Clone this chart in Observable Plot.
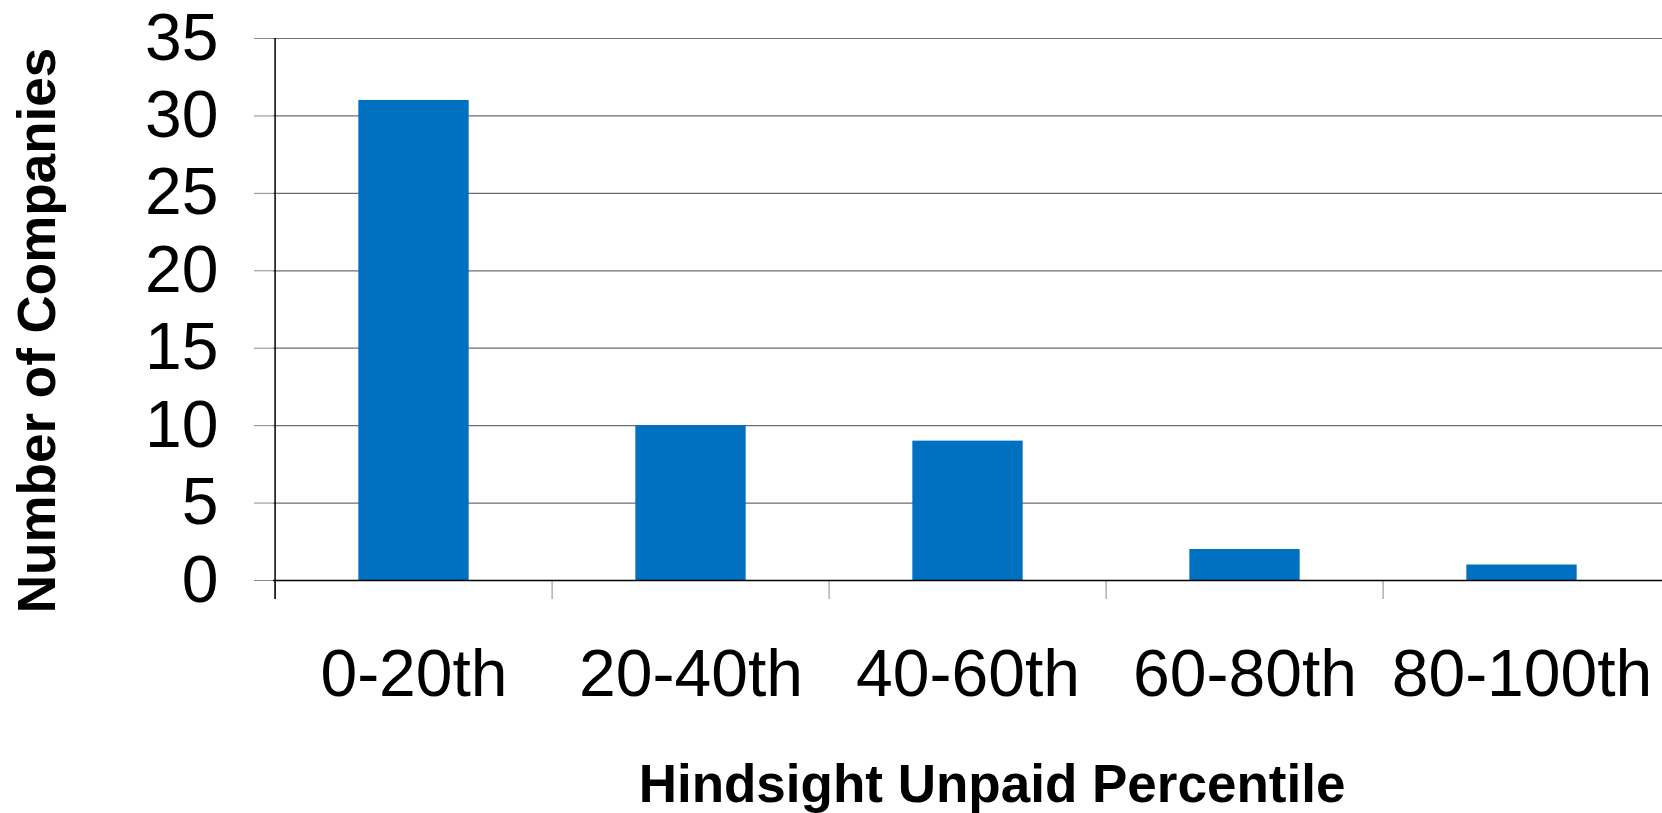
<!DOCTYPE html>
<html>
<head>
<meta charset="utf-8">
<script src="https://cdn.jsdelivr.net/npm/d3@7"></script>
<script src="https://cdn.jsdelivr.net/npm/@observablehq/plot@0.6"></script>
<style>
  html, body { margin: 0; padding: 0; background: #ffffff; }
  #chart svg { display: block; }
</style>
</head>
<body>
<div id="chart"></div>
<script>
const categories = ["0-20th", "20-40th", "40-60th", "60-80th", "80-100th"];
const counts = [31, 10, 9, 2, 1];
const yTicks = [0, 5, 10, 15, 20, 25, 30, 35];
const xTitle = "Hindsight Unpaid Percentile";
const yTitle = "Number of Companies";

const data = categories.map((c, i) => ({cat: c, count: counts[i]}));

const W = 1662, H = 813;
const mL = 273, mR = 0, mT = 38, mB = 233;
const step = (W - mL - mR) / categories.length;

const chart = Plot.plot({
  width: W,
  height: H,
  marginLeft: mL,
  marginRight: mR,
  marginTop: mT,
  marginBottom: mB,
  style: {fontFamily: "'Liberation Sans', Arial, Helvetica, sans-serif", background: "#ffffff", color: "black"},
  x: {domain: categories, padding: 0, axis: null},
  y: {domain: [0, 35], axis: null},
  marks: [
    Plot.gridY(yTicks, {stroke: "#6e6e6e", strokeOpacity: 1, strokeWidth: 1.2}),
    Plot.axisY(yTicks, {tickSize: 19, tickPadding: 36, fontSize: 66, stroke: "#8a8a8a", fill: "black", label: null}),
    Plot.barY(data, {x: "cat", y: "count", fill: "#0070C0", insetLeft: step * 0.3, insetRight: step * 0.3}),
    Plot.axisX({tickSize: 19, dx: -step / 2, tickFormat: () => "", stroke: "#8a8a8a", label: null}),
    Plot.axisX([categories[0]], {tickSize: 19, dx: -step / 2, tickFormat: () => "", stroke: "black", strokeWidth: 1.5, label: null}),
    Plot.axisX({tickSize: 0, tickPadding: 69, fontSize: 66, fill: "black", label: null}),
    Plot.ruleY([0], {stroke: "black", strokeWidth: 1.5}),
    Plot.ruleX([categories[0]], {dx: -step / 2, y1: 0, y2: 35, stroke: "black", strokeWidth: 1.5}),
    Plot.text([xTitle], {frameAnchor: "bottom", textAnchor: "middle", lineAnchor: "middle", dx: 24, dy: 205, fontSize: 53, fontWeight: "bold", fill: "black"}),
    Plot.text([yTitle], {frameAnchor: "left", textAnchor: "middle", lineAnchor: "middle", dx: -235, dy: 21, rotate: -90, fontSize: 53, fontWeight: "bold", fill: "black"})
  ]
});

document.getElementById("chart").appendChild(chart);
</script>
</body>
</html>
